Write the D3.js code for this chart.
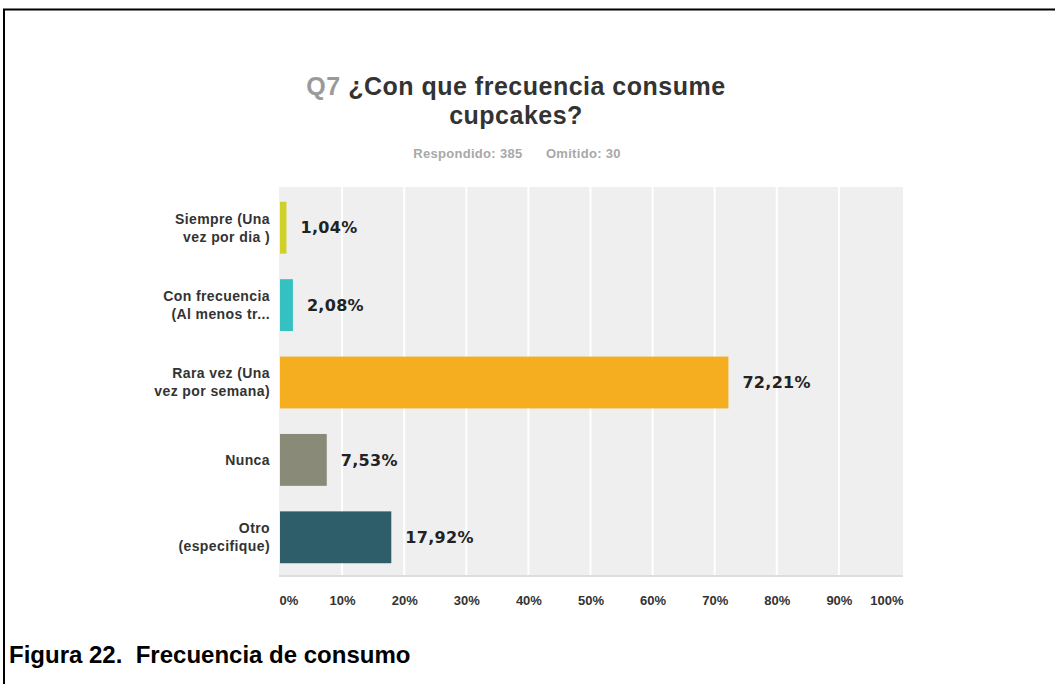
<!DOCTYPE html>
<html>
<head>
<meta charset="utf-8">
<script src="https://cdn.jsdelivr.net/npm/d3@7"></script>
<style>
  body { margin: 0; background: #fff; }
  svg { display: block; }
</style>
</head>
<body>
<svg id="chart" width="1055" height="684"></svg>
<script>
// Data
const categories = [
    ["Siempre (Una", "vez por dia )"],
    ["Con frecuencia", "(Al menos tr..."],
    ["Rara vez (Una", "vez por semana)"],
    ["Nunca"],
    ["Otro", "(especifique)"]
];
const values = [1.04, 2.08, 72.21, 7.53, 17.92];
const barColors = ["#cfd12a", "#35c1c1", "#f4ae1f", "#898a78", "#2e5e6a"];
const tickValues = [0, 10, 20, 30, 40, 50, 60, 70, 80, 90, 100];

const svg = d3.select("#chart");
const fmt = v => v.toFixed(2).replace(".", ",") + "%";
const sans = "'Liberation Sans', Arial, sans-serif";

// frame lines of the page
svg.append("path")
    .attr("d", "M4,684 V9.5 H1055")
    .attr("fill", "none")
    .attr("stroke", "#000")
    .attr("stroke-width", 2);

const plot = { left: 279, right: 903, top: 187, bottom: 575 };

const x = d3.scaleLinear().domain([0, 100]).range([280, 901]);
const y = d3.scaleBand()
    .domain(d3.range(values.length))
    .range([189, 576])
    .paddingInner(0.33)
    .paddingOuter(0.165);

// Title
const title = svg.append("text")
    .attr("x", 516)
    .attr("y", 95)
    .attr("text-anchor", "middle")
    .style("font-family", sans)
    .style("font-weight", "bold")
    .style("font-size", "25px")
    .style("letter-spacing", "0.5px");
title.append("tspan").attr("fill", "#9a9a9a").text("Q7 ");
title.append("tspan").attr("fill", "#333").text("¿Con que frecuencia consume");

svg.append("text")
    .attr("x", 516)
    .attr("y", 124)
    .attr("text-anchor", "middle")
    .attr("fill", "#333")
    .style("font-family", sans)
    .style("font-weight", "bold")
    .style("font-size", "25px")
    .style("letter-spacing", "0.5px")
    .text("cupcakes?");

svg.append("text")
    .attr("x", 517)
    .attr("y", 158)
    .attr("text-anchor", "middle")
    .attr("fill", "#a8a8a8")
    .attr("xml:space", "preserve")
    .style("font-family", sans)
    .style("font-weight", "bold")
    .style("font-size", "13px")
    .style("letter-spacing", "0.3px")
    .text("Respondido: 385      Omitido: 30");

// Plot background
svg.append("rect")
    .attr("x", plot.left)
    .attr("y", plot.top + 1)
    .attr("width", plot.right - plot.left)
    .attr("height", plot.bottom - plot.top + 1)
    .attr("fill", "#dddddd");
svg.append("rect")
    .attr("x", plot.left)
    .attr("y", plot.top)
    .attr("width", plot.right - plot.left)
    .attr("height", plot.bottom - plot.top)
    .attr("fill", "#efefef");

// Gridlines
svg.append("g")
    .selectAll("line")
    .data(tickValues.slice(1, -1))
    .join("line")
    .attr("x1", d => x(d))
    .attr("x2", d => x(d))
    .attr("y1", plot.top)
    .attr("y2", plot.bottom)
    .attr("stroke", "#fff")
    .attr("stroke-width", 2);

// Bars
svg.append("g")
    .selectAll("rect")
    .data(values)
    .join("rect")
    .attr("x", x(0))
    .attr("y", (d, i) => y(i))
    .attr("width", d => x(d) - x(0))
    .attr("height", y.bandwidth())
    .attr("fill", (d, i) => barColors[i]);

// Value labels
svg.append("g")
    .selectAll("text")
    .data(values)
    .join("text")
    .attr("x", d => x(d) + 14)
    .attr("y", (d, i) => y(i) + y.bandwidth() / 2)
    .attr("dy", "0.36em")
    .attr("fill", "#222")
    .style("font-family", "'DejaVu Sans', Verdana, sans-serif")
    .style("font-weight", "bold")
    .style("font-size", "16px")
    .style("letter-spacing", "0.3px")
    .text(fmt);

// Category labels
const catG = svg.append("g")
    .selectAll("text")
    .data(categories)
    .join("text")
    .attr("text-anchor", "end")
    .attr("fill", "#333")
    .style("font-family", sans)
    .style("font-weight", "bold")
    .style("font-size", "14px")
    .style("letter-spacing", "0.4px");
catG.each(function(lines, i) {
    const cy = y(i) + y.bandwidth() / 2;
    const start = cy - (lines.length - 1) * 9;
    d3.select(this).selectAll("tspan")
        .data(lines)
        .join("tspan")
        .attr("x", 270)
        .attr("y", (d, j) => start + j * 18)
        .attr("dy", "0.35em")
        .text(d => d);
});

// X axis labels
const xAxis = svg.append("g")
    .attr("transform", `translate(0,${plot.bottom})`)
    .call(d3.axisBottom(x).tickValues(tickValues).tickFormat(d => d + "%").tickSize(0).tickPadding(21));
xAxis.select(".domain").remove();
xAxis.selectAll("text")
    .attr("fill", "#333")
    .style("font-family", sans)
    .style("font-weight", "bold")
    .style("font-size", "13px")
    .attr("text-anchor", d => d === 0 ? "start" : d === 100 ? "end" : "middle")
    .attr("x", d => d === 0 ? -1 : d === 100 ? 2 : 0);

// Figure caption
svg.append("text")
    .attr("x", 9)
    .attr("y", 663)
    .attr("fill", "#000")
    .attr("xml:space", "preserve")
    .style("font-family", sans)
    .style("font-weight", "bold")
    .style("font-size", "24px")
    .text("Figura 22.  Frecuencia de consumo");
</script>
</body>
</html>
